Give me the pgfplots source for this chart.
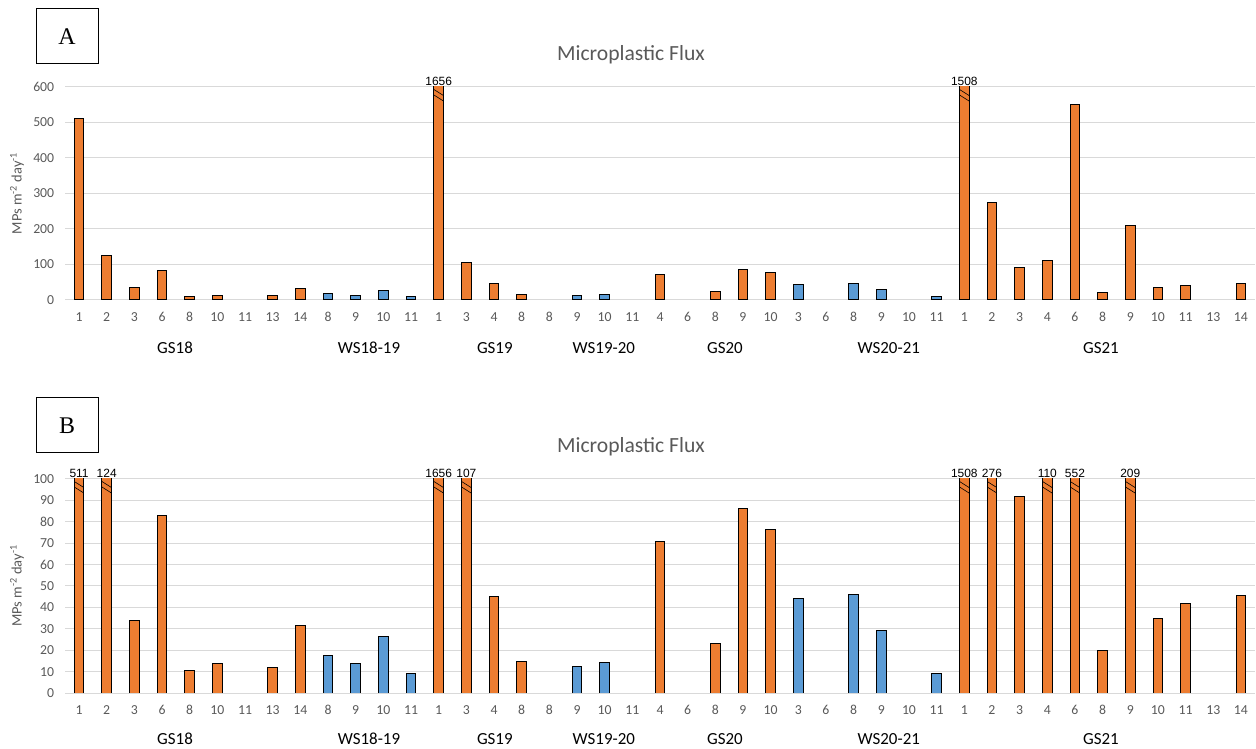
\documentclass[border=0pt]{standalone}
\usepackage{pgfplots}
\pgfplotsset{compat=1.18}
\usepackage{fontspec}
\setmainfont{Carlito}
\newfontfamily\arialf{Liberation Sans}
\newfontfamily\tnrf{Liberation Serif}
\definecolor{orng}{HTML}{ED7D31}
\definecolor{blu}{HTML}{5B9BD5}
\definecolor{txtgray}{HTML}{595959}
\definecolor{gridgray}{HTML}{D9D9D9}
\pgfplotsset{
 mpstyle/.style={
  scale only axis, width=1189.6bp,
  xmin=-0.5, xmax=42.5, ymin=0,
  xtick={0,...,42},
  xticklabels={1,2,3,6,8,10,11,13,14,8,9,10,11,1,3,4,8,8,9,10,11,4,6,8,9,10,3,6,8,9,10,11,1,2,3,4,6,8,9,10,11,13,14},
  major tick length=0pt,
  axis line style={draw=none},
  ymajorgrids, major grid style={gridgray, line width=1bp},
  tick label style={font=\fontsize{13.8}{16}\selectfont, text=txtgray},
  /pgf/number format/assume math mode=true,
  xticklabel style={yshift=-9bp},
  yticklabel style={xshift=-7.5bp},
  ylabel={MPs m\textsuperscript{-2} day\textsuperscript{-1}},
  every axis y label/.style={at={([xshift=-48.2bp]axis description cs:0,0.5)}, anchor=center, rotate=90, font=\fontsize{14.5}{16}\selectfont, text=txtgray},
  ybar, bar width=9.5bp, bar shift=0pt,
  clip mode=individual,
 },
 orangebars/.style={fill=orng, draw=black, line width=1bp},
 bluebars/.style={fill=blu, draw=black, line width=1bp},
}
\newcommand\brk[2]{%
  \draw[black, line width=0.6bp] ([xshift=-4.75bp,yshift=-2.5bp]axis cs:#1,#2) -- ++(9.5bp,-6bp);
  \draw[black, line width=0.6bp] ([xshift=-4.75bp,yshift=-8bp]axis cs:#1,#2) -- ++(9.5bp,-6bp);}
\newcommand\vlab[3]{\node[font=\arialf\fontsize{12}{14}\selectfont, anchor=south, inner sep=1bp] at (axis cs:#1,#2) {#3};}
\newcommand\grp[3]{\node[font=\fontsize{17}{19}\selectfont, text=black] at ([yshift=#3]axis cs:#1,0) {#2};}
\begin{document}
\begin{tikzpicture}
\useasboundingbox (0,0) rectangle (1256bp,749bp);
% Panel labels and titles
\node[draw, line width=1bp, minimum width=62bp, minimum height=55bp, inner sep=0pt, font=\tnrf\fontsize{24}{26}\selectfont] at (67bp,712.5bp) {A};
\node[draw, line width=1bp, minimum width=62bp, minimum height=55bp, inner sep=0pt, font=\tnrf\fontsize{24}{26}\selectfont] at (67bp,323.5bp) {B};
\node[font=\fontsize{21.7}{24}\selectfont, text=txtgray] at (631bp,694bp) {Microplastic Flux};
\node[font=\fontsize{21.7}{24}\selectfont, text=txtgray] at (631bp,302bp) {Microplastic Flux};
% Panel A
\begin{axis}[mpstyle, height=213bp, at={(65.2bp,449bp)}, anchor=south west,
  ymax=600, ytick={0,100,...,600}]
\addplot[orangebars] coordinates {(0,511)(1,124)(2,34)(3,83)(4,10.5)(5,13.7)(7,12)(8,31.7)
 (13,1656)(14,107)(15,45.2)(16,14.9)
 (21,70.8)(23,23)(24,86.2)(25,76.5)
 (32,1508)(33,276)(34,92)(35,110)(36,552)(37,20)(38,209)(39,34.9)(40,41.7)(42,45.6)};
\addplot[bluebars] coordinates {(9,17.7)(10,14)(11,26.5)(12,9)
 (18,12.2)(19,14.2)
 (26,44.2)(28,46.2)(29,29)(31,9.3)};
\brk{13}{600}\brk{32}{600}
\vlab{13}{600}{1656}\vlab{32}{600}{1508}
\grp{3.47}{GS18}{-48bp}\grp{10.48}{WS18-19}{-48bp}\grp{15.03}{GS19}{-48bp}
\grp{18.97}{WS19-20}{-48bp}\grp{23.35}{GS20}{-48bp}\grp{29.27}{WS20-21}{-48bp}\grp{36.94}{GS21}{-48bp}
\end{axis}
% Panel B
\begin{axis}[mpstyle, height=214bp, at={(65.2bp,56bp)}, anchor=south west,
  ymax=100, ytick={0,10,...,100}]
\addplot[orangebars] coordinates {(0,511)(1,124)(2,34)(3,83)(4,10.5)(5,13.7)(7,12)(8,31.7)
 (13,1656)(14,107)(15,45.2)(16,14.9)
 (21,70.8)(23,23)(24,86.2)(25,76.5)
 (32,1508)(33,276)(34,92)(35,110)(36,552)(37,20)(38,209)(39,34.9)(40,41.7)(42,45.6)};
\addplot[bluebars] coordinates {(9,17.7)(10,14)(11,26.5)(12,9)
 (18,12.2)(19,14.2)
 (26,44.2)(28,46.2)(29,29)(31,9.3)};
\brk{0}{100}\brk{1}{100}\brk{13}{100}\brk{14}{100}\brk{32}{100}\brk{33}{100}\brk{35}{100}\brk{36}{100}\brk{38}{100}
\vlab{0}{100}{511}\vlab{1}{100}{124}\vlab{13}{100}{1656}\vlab{14}{100}{107}
\vlab{32}{100}{1508}\vlab{33}{100}{276}\vlab{35}{100}{110}\vlab{36}{100}{552}\vlab{38}{100}{209}
\grp{3.47}{GS18}{-46bp}\grp{10.48}{WS18-19}{-46bp}\grp{15.03}{GS19}{-46bp}
\grp{18.97}{WS19-20}{-46bp}\grp{23.35}{GS20}{-46bp}\grp{29.27}{WS20-21}{-46bp}\grp{36.94}{GS21}{-46bp}
\end{axis}
\end{tikzpicture}
\end{document}
